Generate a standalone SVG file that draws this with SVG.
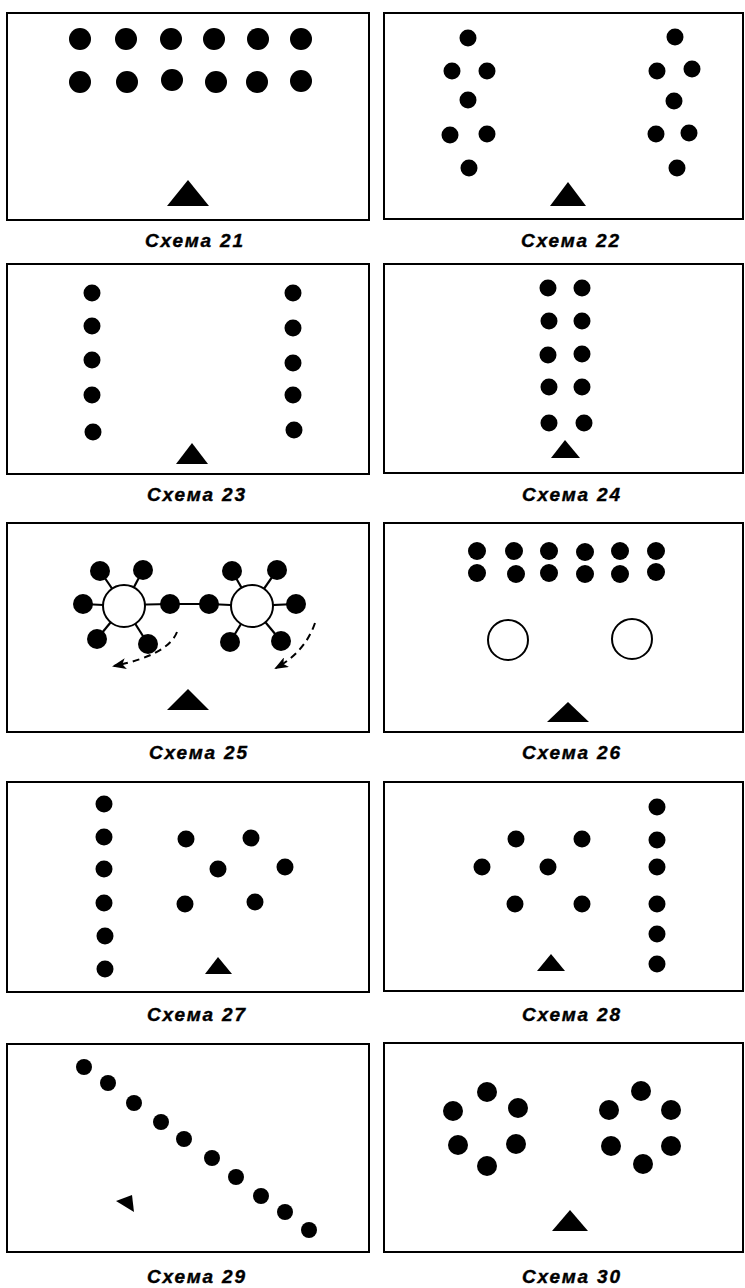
<svg xmlns="http://www.w3.org/2000/svg" width="745" height="1288" viewBox="0 0 745 1288">
<style>
.frame{fill:#fff;stroke:#000;stroke-width:2}
.d{fill:#000}
.tri{fill:#000}
.open{fill:#fff;stroke:#000;stroke-width:2}
.spoke{stroke:#000;stroke-width:2.2;fill:none}
.dash{stroke:#000;stroke-width:2;fill:none;stroke-dasharray:7 5}
.cap{font-family:"Liberation Sans",Arial,sans-serif;font-weight:bold;font-style:italic;font-size:19px;fill:#000;stroke:#000;stroke-width:0.4;text-anchor:middle}
</style>
<defs>
<marker id="ah" viewBox="0 0 14 11" refX="12" refY="5.5" markerWidth="14" markerHeight="11" markerUnits="userSpaceOnUse" orient="auto">
<path d="M0,0 L14,5.5 L0,11 L3.5,5.5 Z" fill="#000"/>
</marker>
</defs>
<rect width="745" height="1288" fill="#fff"/>

<g id="scheme21">
<rect class="frame" x="7" y="13" width="362" height="207"/>
<circle class="d" cx="80" cy="39" r="11"/><circle class="d" cx="126" cy="39" r="11"/><circle class="d" cx="171" cy="39" r="11"/><circle class="d" cx="214" cy="39" r="11"/><circle class="d" cx="258" cy="39" r="11"/><circle class="d" cx="301" cy="39" r="11"/>
<circle class="d" cx="80" cy="82" r="11"/><circle class="d" cx="127" cy="82" r="11"/><circle class="d" cx="172" cy="80" r="11"/><circle class="d" cx="216" cy="82" r="11"/><circle class="d" cx="257" cy="82" r="11"/><circle class="d" cx="301" cy="81" r="11"/>
<polygon class="tri" points="188,180 209,206 167,206"/>
<text class="cap" x="194" y="247" textLength="98" lengthAdjust="spacing">Схема 21</text>
</g>

<g id="scheme22">
<rect class="frame" x="384" y="13" width="359" height="206"/>
<circle class="d" cx="468" cy="38" r="8.5"/><circle class="d" cx="452" cy="71" r="8.5"/><circle class="d" cx="487" cy="71" r="8.5"/><circle class="d" cx="468" cy="100" r="8.5"/><circle class="d" cx="450" cy="135" r="8.5"/><circle class="d" cx="487" cy="134" r="8.5"/><circle class="d" cx="469" cy="168" r="8.5"/>
<circle class="d" cx="675" cy="37" r="8.5"/><circle class="d" cx="657" cy="71" r="8.5"/><circle class="d" cx="692" cy="69" r="8.5"/><circle class="d" cx="674" cy="101" r="8.5"/><circle class="d" cx="656" cy="134" r="8.5"/><circle class="d" cx="689" cy="133" r="8.5"/><circle class="d" cx="677" cy="168" r="8.5"/>
<polygon class="tri" points="568,182 586,206 550,206"/>
<text class="cap" x="570" y="247" textLength="98" lengthAdjust="spacing">Схема 22</text>
</g>

<g id="scheme23">
<rect class="frame" x="7" y="264" width="362" height="210"/>
<circle class="d" cx="92" cy="293" r="8.5"/><circle class="d" cx="92" cy="326" r="8.5"/><circle class="d" cx="92" cy="360" r="8.5"/><circle class="d" cx="92" cy="395" r="8.5"/><circle class="d" cx="93" cy="432" r="8.5"/>
<circle class="d" cx="293" cy="293" r="8.5"/><circle class="d" cx="293" cy="328" r="8.5"/><circle class="d" cx="293" cy="363" r="8.5"/><circle class="d" cx="293" cy="395" r="8.5"/><circle class="d" cx="294" cy="430" r="8.5"/>
<polygon class="tri" points="192,443 208,464 176,464"/>
<text class="cap" x="196" y="501" textLength="98" lengthAdjust="spacing">Схема 23</text>
</g>

<g id="scheme24">
<rect class="frame" x="384" y="264" width="359" height="209"/>
<circle class="d" cx="548" cy="288" r="8.5"/><circle class="d" cx="582" cy="288" r="8.5"/>
<circle class="d" cx="549" cy="321" r="8.5"/><circle class="d" cx="582" cy="321" r="8.5"/>
<circle class="d" cx="548" cy="355" r="8.5"/><circle class="d" cx="582" cy="354" r="8.5"/>
<circle class="d" cx="549" cy="387" r="8.5"/><circle class="d" cx="582" cy="387" r="8.5"/>
<circle class="d" cx="549" cy="423" r="8.5"/><circle class="d" cx="584" cy="423" r="8.5"/>
<polygon class="tri" points="565,440 580,458 551,458"/>
<text class="cap" x="571" y="501" textLength="98" lengthAdjust="spacing">Схема 24</text>
</g>

<g id="connectors">
<line class="spoke" x1="124" y1="606" x2="100" y2="571"/>
<line class="spoke" x1="124" y1="606" x2="143" y2="570"/>
<line class="spoke" x1="124" y1="606" x2="83" y2="604"/>
<line class="spoke" x1="124" y1="606" x2="97" y2="639"/>
<line class="spoke" x1="124" y1="606" x2="148" y2="644"/>
<line class="spoke" x1="124" y1="605" x2="170" y2="604"/>
<line class="spoke" x1="170" y1="604" x2="209" y2="604"/>
<line class="spoke" x1="252" y1="606" x2="209" y2="604"/>
<line class="spoke" x1="252" y1="606" x2="232" y2="571"/>
<line class="spoke" x1="252" y1="606" x2="277" y2="570"/>
<line class="spoke" x1="252" y1="606" x2="296" y2="604"/>
<line class="spoke" x1="252" y1="606" x2="230" y2="642"/>
<line class="spoke" x1="252" y1="606" x2="281" y2="641"/>
<path class="dash" d="M177,632 Q168,655 114,666" marker-end="url(#ah)"/>
<path class="dash" d="M315,623 Q305,652 276,668" marker-end="url(#ah)"/>
</g>

<g id="scheme25">
<rect class="frame" x="7" y="523" width="362" height="209" style="fill:none"/>
<circle class="open" cx="124" cy="606" r="21"/>
<circle class="open" cx="252" cy="606" r="21"/>
<circle class="d" cx="100" cy="571" r="10"/><circle class="d" cx="143" cy="570" r="10"/><circle class="d" cx="83" cy="604" r="10"/><circle class="d" cx="97" cy="639" r="10"/><circle class="d" cx="148" cy="644" r="10"/><circle class="d" cx="170" cy="604" r="10"/>
<circle class="d" cx="209" cy="604" r="10"/><circle class="d" cx="232" cy="571" r="10"/><circle class="d" cx="277" cy="570" r="10"/><circle class="d" cx="296" cy="604" r="10"/><circle class="d" cx="230" cy="642" r="10"/><circle class="d" cx="281" cy="641" r="10"/>
<polygon class="tri" points="188,689 209,710 167,710"/>
<text class="cap" x="198" y="759" textLength="98" lengthAdjust="spacing">Схема 25</text>
</g>

<g id="scheme26">
<rect class="frame" x="384" y="523" width="359" height="209"/>
<circle class="d" cx="477" cy="551" r="9"/><circle class="d" cx="514" cy="551" r="9"/><circle class="d" cx="549" cy="551" r="9"/><circle class="d" cx="585" cy="552" r="9"/><circle class="d" cx="620" cy="551" r="9"/><circle class="d" cx="656" cy="551" r="9"/>
<circle class="d" cx="477" cy="573" r="9"/><circle class="d" cx="516" cy="574" r="9"/><circle class="d" cx="549" cy="573" r="9"/><circle class="d" cx="585" cy="574" r="9"/><circle class="d" cx="620" cy="574" r="9"/><circle class="d" cx="656" cy="572" r="9"/>
<circle class="open" cx="508" cy="640" r="20"/>
<circle class="open" cx="632" cy="639" r="20"/>
<polygon class="tri" points="568,702 589,722 547,722"/>
<text class="cap" x="571" y="759" textLength="98" lengthAdjust="spacing">Схема 26</text>
</g>

<g id="scheme27">
<rect class="frame" x="7" y="782" width="362" height="210"/>
<circle class="d" cx="104" cy="804" r="8.5"/><circle class="d" cx="104" cy="837" r="8.5"/><circle class="d" cx="104" cy="869" r="8.5"/><circle class="d" cx="104" cy="903" r="8.5"/><circle class="d" cx="105" cy="936" r="8.5"/><circle class="d" cx="105" cy="969" r="8.5"/>
<circle class="d" cx="186" cy="839" r="8.5"/><circle class="d" cx="251" cy="838" r="8.5"/><circle class="d" cx="218" cy="869" r="8.5"/><circle class="d" cx="285" cy="867" r="8.5"/><circle class="d" cx="185" cy="904" r="8.5"/><circle class="d" cx="255" cy="902" r="8.5"/>
<polygon class="tri" points="218,957 232,974 205,974"/>
<text class="cap" x="196" y="1021" textLength="98" lengthAdjust="spacing">Схема 27</text>
</g>

<g id="scheme28">
<rect class="frame" x="384" y="782" width="359" height="209"/>
<circle class="d" cx="657" cy="807" r="8.5"/><circle class="d" cx="657" cy="840" r="8.5"/><circle class="d" cx="657" cy="867" r="8.5"/><circle class="d" cx="657" cy="904" r="8.5"/><circle class="d" cx="657" cy="934" r="8.5"/><circle class="d" cx="657" cy="964" r="8.5"/>
<circle class="d" cx="516" cy="839" r="8.5"/><circle class="d" cx="582" cy="839" r="8.5"/><circle class="d" cx="482" cy="867" r="8.5"/><circle class="d" cx="548" cy="867" r="8.5"/><circle class="d" cx="515" cy="904" r="8.5"/><circle class="d" cx="582" cy="904" r="8.5"/>
<polygon class="tri" points="551,954 565,971 537,971"/>
<text class="cap" x="571" y="1021" textLength="98" lengthAdjust="spacing">Схема 28</text>
</g>

<g id="scheme29">
<rect class="frame" x="7" y="1044" width="362" height="208"/>
<circle class="d" cx="84" cy="1067" r="8"/><circle class="d" cx="108" cy="1083" r="8"/><circle class="d" cx="134" cy="1103" r="8"/><circle class="d" cx="161" cy="1122" r="8"/><circle class="d" cx="184" cy="1139" r="8"/><circle class="d" cx="212" cy="1158" r="8"/><circle class="d" cx="236" cy="1177" r="8"/><circle class="d" cx="261" cy="1196" r="8"/><circle class="d" cx="285" cy="1212" r="8"/><circle class="d" cx="309" cy="1230" r="8"/>
<polygon class="tri" points="116,1201 132,1195 134,1212"/>
<text class="cap" x="196" y="1283" textLength="98" lengthAdjust="spacing">Схема 29</text>
</g>

<g id="scheme30">
<rect class="frame" x="384" y="1043" width="359" height="209"/>
<circle class="d" cx="487" cy="1092" r="10"/><circle class="d" cx="453" cy="1111" r="10"/><circle class="d" cx="518" cy="1108" r="10"/><circle class="d" cx="458" cy="1145" r="10"/><circle class="d" cx="516" cy="1144" r="10"/><circle class="d" cx="487" cy="1166" r="10"/>
<circle class="d" cx="641" cy="1091" r="10"/><circle class="d" cx="609" cy="1110" r="10"/><circle class="d" cx="671" cy="1110" r="10"/><circle class="d" cx="611" cy="1146" r="10"/><circle class="d" cx="671" cy="1146" r="10"/><circle class="d" cx="643" cy="1164" r="10"/>
<polygon class="tri" points="570,1210 588,1231 552,1231"/>
<text class="cap" x="571" y="1283" textLength="98" lengthAdjust="spacing">Схема 30</text>
</g>
</svg>
